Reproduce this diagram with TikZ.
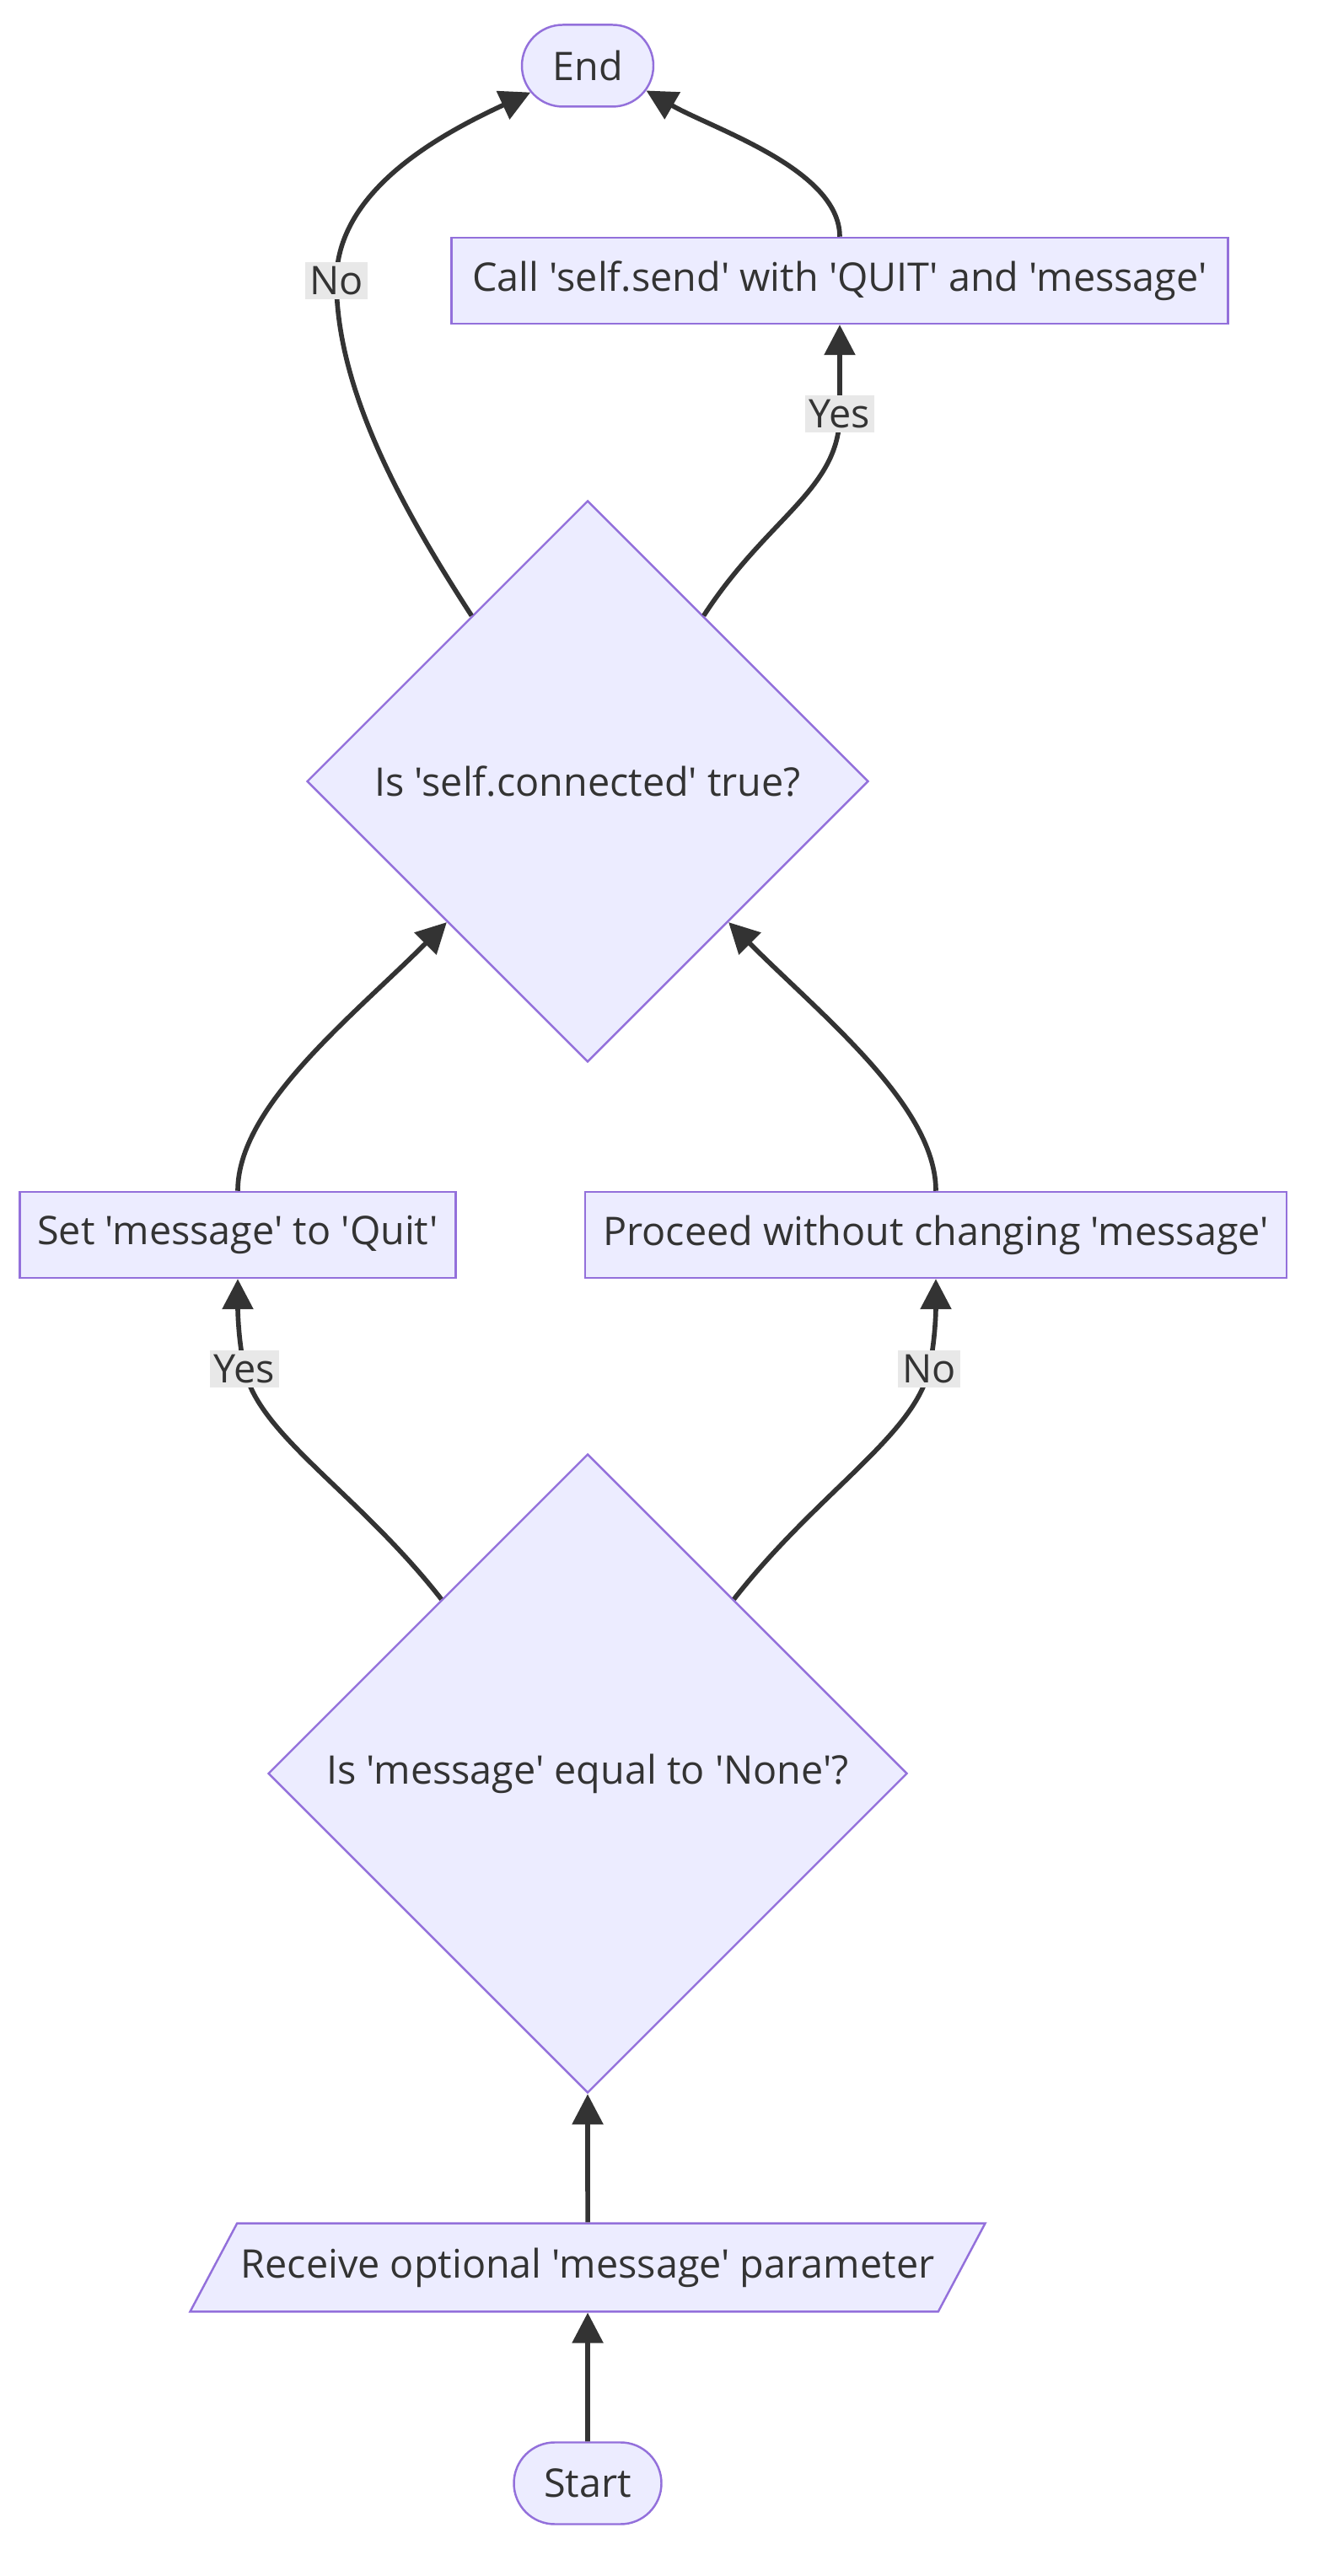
\documentclass[tikz,border=0pt]{standalone}
\usepackage{fontspec}
\setmainfont{Open Sans}[Ligatures=TeXOff]
\usetikzlibrary{shapes.geometric,shapes.misc,arrows.meta}
\definecolor{boxfill}{HTML}{ECECFF}
\definecolor{boxline}{HTML}{9370DB}
\definecolor{ink}{HTML}{333333}
\definecolor{lblfill}{HTML}{E8E8E8}

\begin{document}
\begin{tikzpicture}[font=\fontsize{13.3}{16}\selectfont, text=ink,
  box/.style={draw=boxline, fill=boxfill, line width=0.7pt, minimum height=1.02cm, inner sep=0pt},
  term/.style={box, rounded rectangle, minimum height=0.97cm},
  decide/.style={box, diamond, aspect=1},
  io/.style={box, trapezium, trapezium left angle=62, trapezium right angle=118, trapezium stretches body, minimum height=0pt, inner ysep=0.29cm},
  flow/.style={draw=ink, line width=1.6pt, -{Triangle[length=0.36cm,width=0.36cm]}},
  lbl/.style={fill=lblfill, inner sep=1.5pt, text=ink}]
  \useasboundingbox (0,0) rectangle (15.68,30.56);
  % nodes, bottom to top
  \node[term, minimum width=1.75cm] (start) at (6.97,1.10) {Start};
  \node[io, minimum width=9.43cm] (recv) at (6.97,3.66) {Receive optional 'message' parameter};
  \node[decide, minimum size=7.58cm] (none) at (6.97,9.52) {Is 'message' equal to 'None'?};
  \node[box, minimum width=5.17cm] (setq) at (2.82,15.91) {Set 'message' to 'Quit'};
  \node[box, minimum width=8.32cm] (keep) at (11.10,15.91) {Proceed without changing 'message'};
  \node[decide, minimum size=6.66cm] (conn) at (6.97,21.29) {Is 'self.connected' true?};
  \node[box, minimum width=9.21cm] (send) at (9.96,27.23) {Call 'self.send' with 'QUIT' and 'message'};
  \node[term, minimum width=1.56cm] (end) at (6.97,29.78) {End};
  % label points
  \coordinate (yesdn) at (2.90,14.32);
  \coordinate (nodn) at (11.02,14.32);
  \coordinate (yesup) at (9.96,25.65);
  \coordinate (noup) at (3.99,27.23);
  % connectors
  \draw[flow] (start) -- (recv);
  \draw[flow] (recv) -- (none);
  \draw[flow] (none.130) .. controls +(128:1.6) and +(-78:0.8) .. (yesdn) node[lbl] {Yes} .. controls +(102:0.4) and +(0,-0.3) .. (setq.south);
  \draw[flow] (none.50) .. controls +(52:1.6) and +(258:0.8) .. (nodn) node[lbl] {No} .. controls +(78:0.4) and +(0,-0.3) .. (keep.south);
  \draw[flow] (setq.north) .. controls +(0,1.0) and +(225:1.6) .. (conn.225);
  \draw[flow] (keep.north) .. controls +(0,1.0) and +(315:1.6) .. (conn.315);
  \draw[flow] (conn.55) .. controls +(57:1.4) and +(0,-0.9) .. (yesup) node[lbl] {Yes} -- (send.south);
  \draw[flow] (conn.125) .. controls +(123:1.5) and +(0,-1.3) .. (noup) node[lbl] {No} .. controls +(0,1.1) and +(205:1.1) .. (end.205);
  \draw[flow] (send.north) .. controls +(0,0.8) and +(-30:0.9) .. (end.-23);
\end{tikzpicture}
\end{document}
